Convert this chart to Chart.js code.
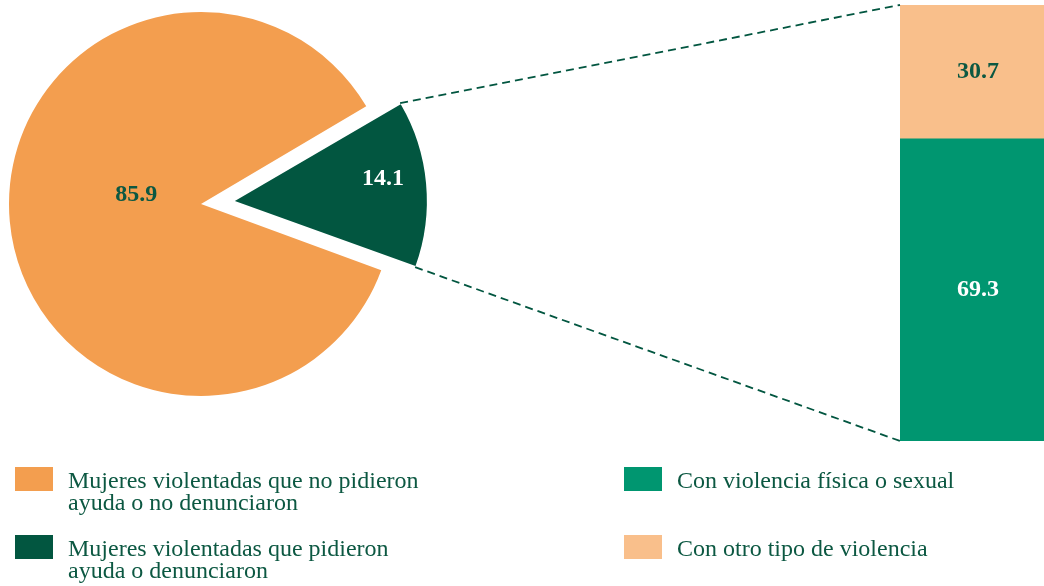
<!DOCTYPE html>
<html>
<head>
<meta charset="utf-8">
<script src="https://cdn.jsdelivr.net/npm/chart.js@4.4.1/dist/chart.umd.min.js"></script>
<style>
  html, body { margin: 0; padding: 0; background: #fff; overflow: hidden; }
  #wrap { position: relative; width: 1044px; height: 586px; overflow: hidden; }
  canvas { position: absolute; left: 0; top: 0; }
  .item { position: absolute; font-family: "Liberation Serif", "Times New Roman", serif; font-size: 24px; line-height: 22px; color: #0c5842; white-space: nowrap; }
  .sw { position: absolute; width: 38px; height: 24px; }
</style>
</head>
<body>
<div id="wrap">
  <canvas id="pie" width="1044" height="586"></canvas>
  <canvas id="bar" width="1056" height="586"></canvas>
  <div id="legend"></div>
</div>
<script>
// pie: all women who suffered violence
const pieLabels = ["Mujeres violentadas que no pidieron ayuda o no denunciaron", "Mujeres violentadas que pidieron ayuda o denunciaron"];
const pieValues = [85.9, 14.1];
const pieColors = ["#f39e4f", "#025640"];

// bar: breakdown of those who asked for help
const barLabels = ["Con violencia física o sexual", "Con otro tipo de violencia"];
const barValues = [69.3, 30.7];
const barColors = ["#009670", "#f9bf8b"];

const textGreen = "#0c5842";
const valueFont = 'bold 24px "Liberation Serif", "Times New Roman", serif';

// label placement inside each slice: angle shift (deg) and fraction of radius
const pieLabelShift = [13, -3.3];
const pieLabelFrac = [0.34, 0.78];
const pieLabelColor = [textGreen, "#ffffff"];
const barLabelColor = ["#ffffff", textGreen];

const PIE_R = 192;

function arcCenter(arc) {
  const mid = (arc.startAngle + arc.endAngle) / 2;
  const off = (arc.options.offset || 0) / 4;
  return { x: arc.x + Math.cos(mid) * off, y: arc.y + Math.sin(mid) * off, mid: mid };
}

const pieLabelPlugin = {
  id: "pieLabels",
  beforeDatasetsDraw(chart) {
    // keep exploded slice the same radius as the rest
    chart.getDatasetMeta(0).data.forEach(arc => {
      const off = (arc.options.offset || 0) / 4;
      const circ = arc.endAngle - arc.startAngle;
      const fix = 1 - Math.sin(Math.min(Math.PI, circ));
      arc.outerRadius = PIE_R - off * fix;
    });
  },
  afterDatasetsDraw(chart) {
    const ctx = chart.ctx;
    ctx.save();
    ctx.font = valueFont;
    ctx.textAlign = "center";
    ctx.textBaseline = "middle";
    chart.getDatasetMeta(0).data.forEach((arc, i) => {
      const c = arcCenter(arc);
      const a = c.mid + pieLabelShift[i] * Math.PI / 180;
      const r = PIE_R * pieLabelFrac[i];
      ctx.fillStyle = pieLabelColor[i];
      ctx.fillText(pieValues[i].toFixed(1), c.x + Math.cos(a) * r, c.y + Math.sin(a) * r);
    });
    ctx.restore();
  }
};

const pieChart = new Chart(document.getElementById("pie"), {
  type: "pie",
  data: {
    labels: pieLabels,
    datasets: [{
      data: pieValues,
      backgroundColor: pieColors,
      borderWidth: 0,
      offset: [0, 136],
      hoverOffset: 0
    }]
  },
  options: {
    responsive: false,
    animation: false,
    rotation: 110.16,
    radius: PIE_R,
    layout: { padding: { left: 0, top: 0, right: 642, bottom: 178 } },
    plugins: { legend: { display: false }, tooltip: { enabled: false } },
    events: []
  },
  plugins: [pieLabelPlugin]
});

const barPlugin = {
  id: "barLabels",
  afterDatasetsDraw(chart) {
    const ctx = chart.ctx;
    ctx.save();
    ctx.font = valueFont;
    ctx.textAlign = "center";
    ctx.textBaseline = "middle";
    barValues.forEach((v, i) => {
      const bar = chart.getDatasetMeta(i).data[0];
      ctx.fillStyle = barLabelColor[i];
      ctx.fillText(v.toFixed(1), bar.x, (bar.y + bar.base) / 2);
    });

    // dashed connectors from the exploded slice to the bar
    const arc = pieChart.getDatasetMeta(0).data[1];
    const c = arcCenter(arc);
    const R = PIE_R;
    const bottomBar = chart.getDatasetMeta(0).data[0];
    const topBar = chart.getDatasetMeta(1).data[0];
    const left = bottomBar.x - bottomBar.width / 2;
    ctx.strokeStyle = "#025640";
    ctx.lineWidth = 1.8;
    ctx.setLineDash([8, 5]);
    ctx.beginPath();
    ctx.moveTo(c.x + Math.cos(arc.startAngle) * R, c.y + Math.sin(arc.startAngle) * R);
    ctx.lineTo(left, topBar.y);
    ctx.moveTo(c.x + Math.cos(arc.endAngle) * R, c.y + Math.sin(arc.endAngle) * R);
    ctx.lineTo(left, bottomBar.base);
    ctx.stroke();
    ctx.restore();
  }
};

new Chart(document.getElementById("bar"), {
  type: "bar",
  data: {
    labels: [""],
    datasets: barValues.map((v, i) => ({
      label: barLabels[i],
      data: [v],
      backgroundColor: barColors[i],
      borderWidth: 0,
      barPercentage: 1,
      categoryPercentage: 1
    }))
  },
  options: {
    responsive: false,
    animation: false,
    layout: { padding: { left: 900, top: 5, right: 0, bottom: 145 } },
    scales: {
      x: { stacked: true, display: false },
      y: { stacked: true, display: false, min: 0, max: 100 }
    },
    plugins: { legend: { display: false }, tooltip: { enabled: false } },
    events: []
  },
  plugins: [barPlugin]
});

// legend
const legendItems = [
  { text: "Mujeres violentadas que no pidieron<br>ayuda o no denunciaron", color: pieColors[0], x: 15, y: 467 },
  { text: "Mujeres violentadas que pidieron<br>ayuda o denunciaron", color: pieColors[1], x: 15, y: 535 },
  { text: barLabels[0], color: barColors[0], x: 624, y: 467 },
  { text: barLabels[1], color: barColors[1], x: 624, y: 535 }
];
const legend = document.getElementById("legend");
legendItems.forEach(it => {
  const sw = document.createElement("div");
  sw.className = "sw";
  sw.style.left = it.x + "px";
  sw.style.top = it.y + "px";
  sw.style.background = it.color;
  legend.appendChild(sw);
  const t = document.createElement("div");
  t.className = "item";
  t.style.left = (it.x + 53) + "px";
  t.style.top = (it.y + 2) + "px";
  t.innerHTML = it.text;
  legend.appendChild(t);
});
</script>
</body>
</html>
